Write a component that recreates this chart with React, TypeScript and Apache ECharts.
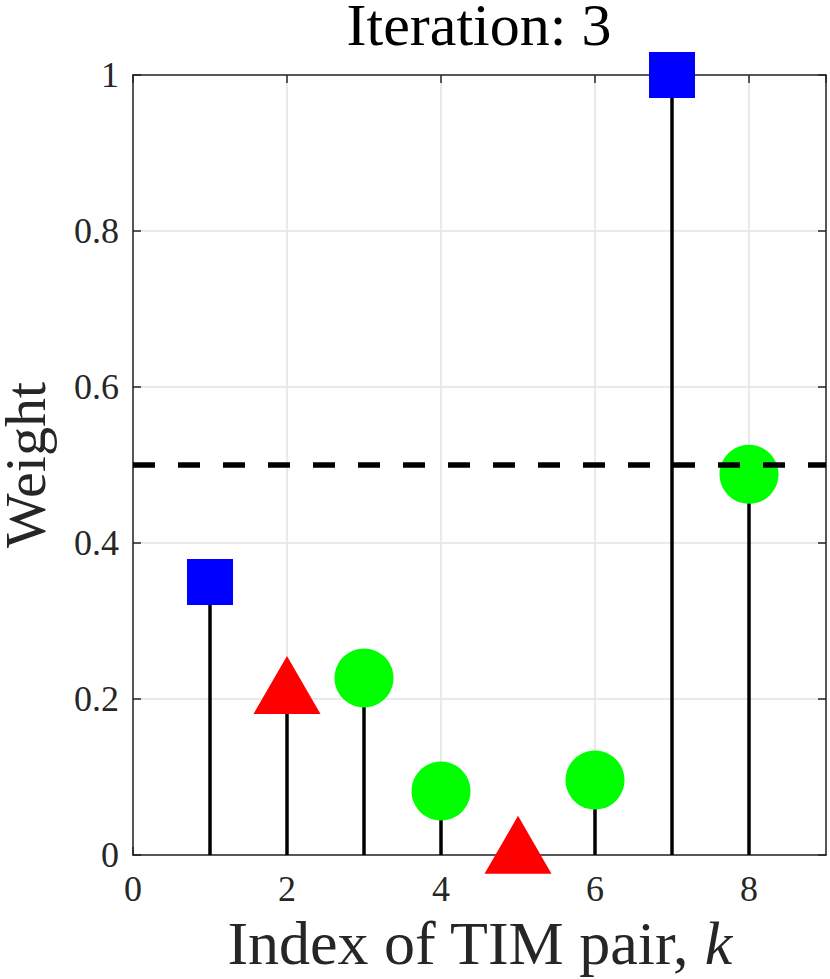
import React, { useEffect, useRef } from "react";
import * as echarts from "echarts";

const pairIndex = [1, 2, 3, 4, 5, 6, 7, 8];
const weights = [0.35, 0.218, 0.227, 0.082, 0.013, 0.096, 1.0, 0.488];
const markerKinds = ["square", "triangle", "circle", "circle", "triangle", "circle", "square", "circle"];
const threshold = 0.5;
const xTickLabels = ["0", "2", "4", "6", "8"];
const yTickLabels = ["0", "0.2", "0.4", "0.6", "0.8", "1"];
const titleText = "Iteration: 3";

const FONT = "'Liberation Serif', 'Times New Roman', serif";

const markerStyle: Record<string, { symbol: string; size: number | number[]; color: string }> = {
  square: { symbol: "rect", size: 46, color: "#0000ff" },
  triangle: { symbol: "triangle", size: [67, 58], color: "#ff0000" },
  circle: { symbol: "circle", size: 59, color: "#00ff00" },
};

export default function App() {
  const ref = useRef<HTMLDivElement>(null);
  useEffect(() => {
    if (!ref.current) return;
    const chart = echarts.init(ref.current, null, { renderer: "svg" });
    const axisColor = "#262626";
    const gridColor = "#e3e3e3";
    const stemData = pairIndex.map((k, i) => [k, weights[i]]);
    const markerData = pairIndex.map((k, i) => {
      const m = markerStyle[markerKinds[i]];
      return {
        value: [k, weights[i]],
        symbol: m.symbol,
        symbolSize: m.size,
        itemStyle: { color: m.color, opacity: 1 },
      };
    });
    chart.setOption({
      animation: false,
      backgroundColor: "#ffffff",
      grid: {
        left: 133,
        right: 4,
        top: 75,
        bottom: 124,
        containLabel: false,
        outerBoundsMode: "none",
      },
      graphic: [
        {
          type: "text",
          x: 479,
          y: 25,
          style: {
            text: titleText,
            font: `60px ${FONT}`,
            lineHeight: 50,
            fill: "#000",
            textAlign: "center",
            textVerticalAlign: "middle",
          },
          z: 10,
        },
      ],
      xAxis: [
        {
          type: "value",
          min: 0,
          max: 9,
          interval: 2,
          name: "Index of TIM pair, {i|k}",
          nameLocation: "middle",
          nameGap: 56,
          nameTextStyle: {
            fontFamily: FONT,
            fontSize: 62,
            color: "#262626",
            rich: {
              i: { fontFamily: FONT, fontSize: 62, fontStyle: "italic", color: "#262626" },
            },
          },
          axisLine: { show: true, onZero: false, lineStyle: { color: axisColor, width: 1.5 } },
          axisTick: { show: true, inside: true, length: 8, lineStyle: { color: axisColor, width: 1.5 } },
          axisLabel: {
            margin: 16,
            fontFamily: FONT,
            fontSize: 36,
            color: "#262626",
            showMaxLabel: false,
            formatter: (v: number) => {
              const s = String(v);
              return xTickLabels.includes(s) ? s : "";
            },
          },
          splitLine: { show: true, lineStyle: { color: gridColor, width: 1.5 } },
        },
        {
          type: "value",
          position: "top",
          min: 0,
          max: 9,
          interval: 2,
          axisLine: { show: true, onZero: false, lineStyle: { color: axisColor, width: 1.5 } },
          axisTick: { show: true, inside: true, length: 8, lineStyle: { color: axisColor, width: 1.5 } },
          axisLabel: { show: false },
          splitLine: { show: false },
        },
      ],
      yAxis: [
        {
          type: "value",
          min: 0,
          max: 1,
          interval: 0.2,
          name: "Weight",
          nameLocation: "middle",
          nameGap: 79,
          nameTextStyle: { fontFamily: FONT, fontSize: 58, color: "#262626" },
          axisLine: { show: true, onZero: false, lineStyle: { color: axisColor, width: 1.5 } },
          axisTick: { show: true, inside: true, length: 8, lineStyle: { color: axisColor, width: 1.5 } },
          axisLabel: {
            margin: 14,
            fontFamily: FONT,
            fontSize: 36,
            color: "#262626",
            formatter: (v: number) => {
              const s = String(+v.toFixed(1));
              return yTickLabels.includes(s) ? s : "";
            },
          },
          splitLine: { show: true, lineStyle: { color: gridColor, width: 1.5 } },
        },
        {
          type: "value",
          position: "right",
          min: 0,
          max: 1,
          interval: 0.2,
          axisLine: { show: true, onZero: false, lineStyle: { color: axisColor, width: 1.5 } },
          axisTick: { show: true, inside: true, length: 8, lineStyle: { color: axisColor, width: 1.5 } },
          axisLabel: { show: false },
          splitLine: { show: false },
        },
      ],
      series: [
        {
          type: "bar",
          data: stemData,
          barWidth: 3.5,
          itemStyle: { color: "#000000" },
          z: 2,
          silent: true,
        },
        {
          type: "scatter",
          data: markerData,
          z: 3,
          silent: true,
        },
        {
          type: "line",
          data: [
            [0, threshold],
            [9, threshold],
          ],
          showSymbol: false,
          symbol: "none",
          lineStyle: { color: "#000000", width: 5.5, type: [22, 23] },
          z: 4,
          silent: true,
        },
      ],
    });
    return () => chart.dispose();
  }, []);
  return (
    <div
      ref={ref}
      style={{ position: "fixed", left: 0, top: 0, width: 830, height: 979, background: "#fff" }}
    />
  );
}
